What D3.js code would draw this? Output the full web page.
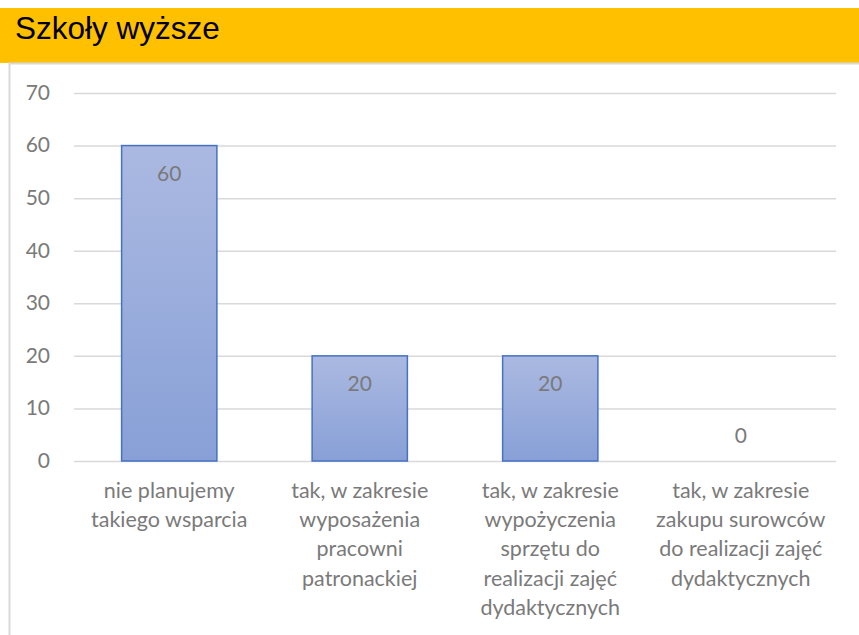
<!DOCTYPE html>
<html>
<head>
<meta charset="utf-8">
<script src="https://cdn.jsdelivr.net/npm/d3@7"></script>
<style>
  body { margin: 0; background: #fff; }
</style>
</head>
<body>
<div id="chart"></div>
<script>
var categories = [
  ["nie planujemy", "takiego wsparcia"],
  ["tak, w zakresie", "wyposażenia", "pracowni", "patronackiej"],
  ["tak, w zakresie", "wypożyczenia", "sprzętu do", "realizacji zajęć", "dydaktycznych"],
  ["tak, w zakresie", "zakupu surowców", "do realizacji zajęć", "dydaktycznych"]
];
var values = [60, 20, 20, 0];
var yTicks = [0, 10, 20, 30, 40, 50, 60, 70];
var title = "Szkoły wyższe";

var width = 859, height = 635;
var margin = {top: 93, left: 74, right: 23, bottom: 174};
var labelFont = "Lato, 'Open Sans', sans-serif";
var grey = "#7a7a7a";

var svg = d3.select("#chart")
  .append("svg")
  .attr("width", width)
  .attr("height", height);

var defs = svg.append("defs");
var grad = defs.append("linearGradient")
  .attr("id", "barGrad")
  .attr("x1", 0).attr("y1", 0).attr("x2", 0).attr("y2", 1);
grad.append("stop").attr("offset", "0%").attr("stop-color", "#abb9e1");
grad.append("stop").attr("offset", "100%").attr("stop-color", "#88a0d7");

// header band
svg.append("rect")
  .attr("x", 0).attr("y", 8)
  .attr("width", width).attr("height", 55)
  .attr("fill", "#ffc000");

svg.append("text")
  .attr("x", 15).attr("y", 39)
  .style("font-family", "'Liberation Sans', Arial, sans-serif")
  .style("font-size", "31.5px")
  .attr("fill", "#000")
  .text(title);

// chart frame
svg.append("path")
  .attr("d", `M9.5,${height} V63.5 H${width}`)
  .attr("fill", "none")
  .attr("stroke", "#d9d9d9")
  .attr("stroke-width", 2);

var idx = d3.range(categories.length);

var xScale = d3.scaleBand()
  .domain(idx)
  .range([margin.left, width - margin.right])
  .paddingInner(0.5)
  .paddingOuter(0.25);

var yScale = d3.scaleLinear()
  .domain([0, 70])
  .range([height - margin.bottom, margin.top]);

// gridlines
var grid = svg.append("g")
  .attr("transform", `translate(${margin.left},0)`)
  .call(d3.axisLeft(yScale).tickValues(yTicks)
    .tickSize(-(width - margin.right - margin.left)).tickFormat(""));
grid.select(".domain").remove();
grid.selectAll("line").attr("stroke", "#d9d9d9").attr("stroke-width", 1.5);

var yAxis = svg.append("g")
  .attr("transform", `translate(50,0)`)
  .call(d3.axisLeft(yScale).tickValues(yTicks).tickSize(0).tickPadding(0));
yAxis.select(".domain").remove();
yAxis.selectAll("text")
  .attr("dy", "0.3em")
  .style("font-family", labelFont)
  .style("font-size", "21px")
  .attr("fill", grey);

// bars
svg.selectAll("rect.bar")
  .data(values)
  .enter()
  .append("rect")
    .attr("class", "bar")
    .attr("x", function(d, i) { return xScale(i); })
    .attr("y", function(d) { return yScale(d); })
    .attr("width", xScale.bandwidth())
    .attr("height", function(d) { return yScale(0) - yScale(d); })
    .attr("fill", "url(#barGrad)")
    .attr("stroke", function(d) { return d > 0 ? "#4472c4" : "none"; })
    .attr("stroke-width", 1.5);

// value labels
svg.selectAll("text.val")
  .data(values)
  .enter()
  .append("text")
    .attr("class", "val")
    .attr("x", function(d, i) { return xScale(i) + xScale.bandwidth() / 2; })
    .attr("y", function(d) { return d > 0 ? yScale(d) + 35 : yScale(d) - 18; })
    .attr("text-anchor", "middle")
    .style("font-family", labelFont)
    .style("font-size", "21px")
    .attr("fill", grey)
    .text(function(d) { return d; });

// category labels
var cat = svg.selectAll("text.cat")
  .data(categories)
  .enter()
  .append("text")
    .attr("class", "cat")
    .attr("text-anchor", "middle")
    .style("font-family", labelFont)
    .style("font-size", "21.5px")
    .attr("fill", grey);

cat.selectAll("tspan")
  .data(function(d, i) { return d.map(function(s) { return {s: s, i: i}; }); })
  .enter()
  .append("tspan")
    .attr("x", function(d) { return xScale(d.i) + xScale.bandwidth() / 2; })
    .attr("y", function(d, j) { return 498 + j * 29.2; })
    .text(function(d) { return d.s; });
</script>
</body>
</html>
